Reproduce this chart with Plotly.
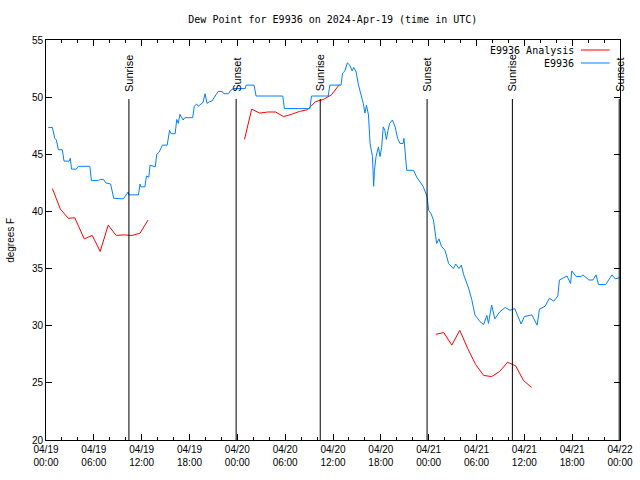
import pandas as pd
import plotly.graph_objects as go

START = pd.Timestamp("2024-04-19 00:00")

# Observed dew point (hours since 2024-04-19 00:00 UTC, degrees F)
obs_hours = [0.29, 0.8, 1.1, 1.3, 1.55, 2.05, 2.26, 2.9, 3.05, 3.2, 3.8, 4.05, 5.5, 5.7, 6.6, 6.8, 7.2, 7.5, 8.1, 8.5,
             9.7, 9.9, 10.3, 10.4, 11.6, 11.8, 11.9, 12.4, 12.6, 12.9, 13.05, 13.7, 13.9, 14.2, 14.6, 15.2, 15.5, 15.7,
             16.2, 16.4, 16.6, 16.8, 17.2, 17.4, 18.4, 18.6, 18.9, 19.1, 19.4, 19.7, 19.95, 20.2, 20.5, 20.8, 21.6,
             22.1, 22.3, 22.9, 23.1, 23.5, 25.0, 25.1, 26.1, 26.35, 29.7, 29.9, 33.1, 33.3, 35.4, 35.6, 37.0, 37.2,
             37.5, 37.8, 38.1, 38.4, 38.6, 38.9, 39.2, 39.5, 39.8, 40.0, 40.2, 40.45, 40.65, 40.95, 41.1, 41.2, 41.4,
             41.7, 41.9, 42.1, 42.3, 42.5, 42.7, 42.9, 43.1, 43.45, 43.8, 44.1, 44.4, 44.8, 44.9, 45.25, 46.1, 46.5,
             46.9, 47.3, 47.8, 48.0, 48.3, 48.6, 49.0, 49.3, 49.6, 50.05, 50.5, 51.1, 51.4, 51.8, 52.1, 52.4, 53.0,
             53.4, 53.8, 54.45, 54.9, 55.3, 55.5, 55.9, 56.3, 56.9, 57.6, 58.2, 58.8, 59.6, 60.0, 60.95, 61.6, 61.9,
             62.6, 63.15, 63.7, 64.2, 64.4, 64.9, 65.35, 65.8, 65.95, 66.5, 67.1, 67.35, 68.1, 68.6, 69.0, 69.3,
             69.8, 70.2, 71.0, 71.4, 71.95]
obs_values = [47.35, 47.35, 46.4, 46.25, 45.4, 45.4, 44.4, 44.4, 44.65, 43.7, 43.7, 43.95, 43.95, 42.7, 42.7, 42.8,
              42.8, 42.5, 42.4, 41.15, 41.1, 41.3, 41.7, 41.45, 41.45, 42.4, 42.15, 42.15, 43.1, 43.0, 44.05, 43.9,
              45.0, 45.2, 45.8, 45.8, 47.1, 46.8, 46.8, 48.05, 47.7, 48.5, 48.0, 48.2, 48.2, 49.2, 49.4, 49.2, 49.35,
              49.55, 50.3, 49.45, 49.6, 49.65, 50.5, 50.5, 50.3, 50.3, 50.55, 50.75, 50.75, 51.05, 51.05, 50.1, 50.1,
              49.0, 49.0, 50.1, 50.1, 51.05, 51.05, 52.1, 52.3, 53.0, 52.8, 52.3, 52.6, 52.2, 51.05, 50.3, 49.45,
              48.6, 49.3, 48.45, 45.95, 44.8, 42.2, 43.6, 44.8, 45.65, 44.8, 45.6, 47.4, 47.1, 46.3, 47.1, 47.7, 48.0,
              47.4, 46.4, 45.95, 45.95, 46.4, 43.6, 43.6, 43.0, 42.6, 42.2, 41.3, 40.1, 39.8, 39.25, 37.2, 37.6, 36.95,
              36.6, 35.45, 35.0, 35.4, 35.0, 35.3, 34.45, 33.3, 32.3, 30.95, 30.35, 30.1, 30.9, 30.2, 31.8, 30.6,
              31.2, 31.6, 31.35, 31.5, 30.15, 30.8, 30.95, 30.05, 31.45, 31.7, 32.4, 32.15, 32.6, 34.0, 34.2, 34.35,
              33.7, 34.8, 34.3, 34.3, 34.45, 34.0, 34.0, 34.45, 33.6, 33.6, 33.6, 34.45, 34.1, 34.2]

# Analysis dew point, three segments (None = gap)
ana_hours = [0.8, 1.8, 2.8, 3.6, 4.8, 5.8, 6.8, 7.8, 8.8, 9.8, 10.8, 11.8, 12.8, None,
             24.9, 25.8, 26.8, 27.8, 28.8, 29.8, 30.8, 31.8, 32.8, 33.8, 34.8, 35.8, 36.8, None,
             48.9, 49.9, 50.9, 51.9, 52.9, 53.9, 54.9, 55.9, 56.9, 57.9, 58.9, 59.9, 60.9]
ana_values = [42.0, 40.2, 39.4, 39.45, 37.6, 37.9, 36.5, 38.8, 37.9, 37.95, 37.9, 38.1, 39.25, None,
              46.3, 48.95, 48.6, 48.7, 48.7, 48.3, 48.5, 48.75, 48.9, 49.6, 49.8, 50.2, 51.1, None,
              29.25, 29.4, 28.3, 29.6, 28.0, 26.6, 25.65, 25.55, 26.0, 26.8, 26.5, 25.2, 24.6]

sun_labels = ["Sunrise", "Sunset", "Sunrise", "Sunset", "Sunrise", "Sunset"]
sun_hours = [10.4, 23.85, 34.4, 47.8, 58.5, 71.9]

tick_hours = list(range(0, 73, 6))
tick_text = [(START + pd.Timedelta(hours=h)).strftime("%m/%d<br>%H:%M") for h in tick_hours]

series_names = ["E9936 Analysis", "E9936"]
series_colors = ["#ff0000", "#0080ff"]


def to_time(hours):
    return [None if h is None else START + pd.Timedelta(hours=h) for h in hours]


fig = go.Figure()
fig.add_trace(go.Scatter(x=to_time(ana_hours), y=ana_values, mode="lines", name=series_names[0],
                         line=dict(color=series_colors[0], width=1), connectgaps=False))
fig.add_trace(go.Scatter(x=to_time(obs_hours), y=obs_values, mode="lines", name=series_names[1],
                         line=dict(color=series_colors[1], width=1)))

mono = "DejaVu Sans Mono, monospace"
sans = "Liberation Sans, Arial, sans-serif"

for lab, h in zip(sun_labels, sun_hours):
    t = START + pd.Timedelta(hours=h)
    fig.add_shape(type="line", xref="x", yref="paper", x0=t, x1=t, y0=0, y1=0.8525,
                  line=dict(color="black", width=1))
    fig.add_annotation(x=t, xref="x", y=0.866, yref="paper", text=lab, textangle=-90,
                       showarrow=False, xanchor="center", yanchor="bottom",
                       font=dict(family=sans, size=11, color="black"))

# gnuplot-style legend (text left of sample line)
for i, (nm, col) in enumerate(zip(series_names, series_colors)):
    yp = 0.975 - i * 0.0325
    fig.add_annotation(x=0.923, xref="paper", y=yp, yref="paper", text=nm, showarrow=False,
                       xanchor="right", yanchor="middle", font=dict(family=mono, size=10, color="black"))
    fig.add_shape(type="line", xref="paper", yref="paper", x0=0.932, x1=0.982, y0=yp, y1=yp,
                  line=dict(color=col, width=1))

# y-axis title placed like gnuplot's
fig.add_annotation(x=-0.063, xref="paper", y=0.5, yref="paper", text="degrees F", textangle=-90,
                   showarrow=False, xanchor="center", yanchor="middle",
                   font=dict(family=sans, size=10, color="black"))

fig.update_layout(
    width=640, height=480,
    margin=dict(l=46, r=20, t=40, b=40, autoexpand=False),
    paper_bgcolor="white", plot_bgcolor="white",
    showlegend=False,
    title=dict(text="Dew Point for E9936 on 2024-Apr-19 (time in UTC)", x=0.52, xanchor="center",
               y=0.96, yanchor="middle", font=dict(family=mono, size=10, color="black")),
    font=dict(family=sans, size=10, color="black"),
)
fig.update_xaxes(range=[START, START + pd.Timedelta(hours=72)],
                 tickvals=[START + pd.Timedelta(hours=h) for h in tick_hours], ticktext=tick_text,
                 ticks="inside", ticklen=6, tickcolor="black", showline=True, linecolor="black", linewidth=1,
                 mirror="allticks", showgrid=False, zeroline=False, automargin=False,
                 minor=dict(dtick=2 * 3600 * 1000, tick0=START, ticks="inside", ticklen=3, tickcolor="black",
                            showgrid=False),
                 tickfont=dict(family=sans, size=10))
fig.update_yaxes(range=[20, 55], dtick=5, ticks="inside", ticklen=6, tickcolor="black", showline=True,
                 linecolor="black", linewidth=1, mirror="allticks", showgrid=False, zeroline=False,
                 automargin=False, tickfont=dict(family=sans, size=10))

fig.write_html("out.html")
